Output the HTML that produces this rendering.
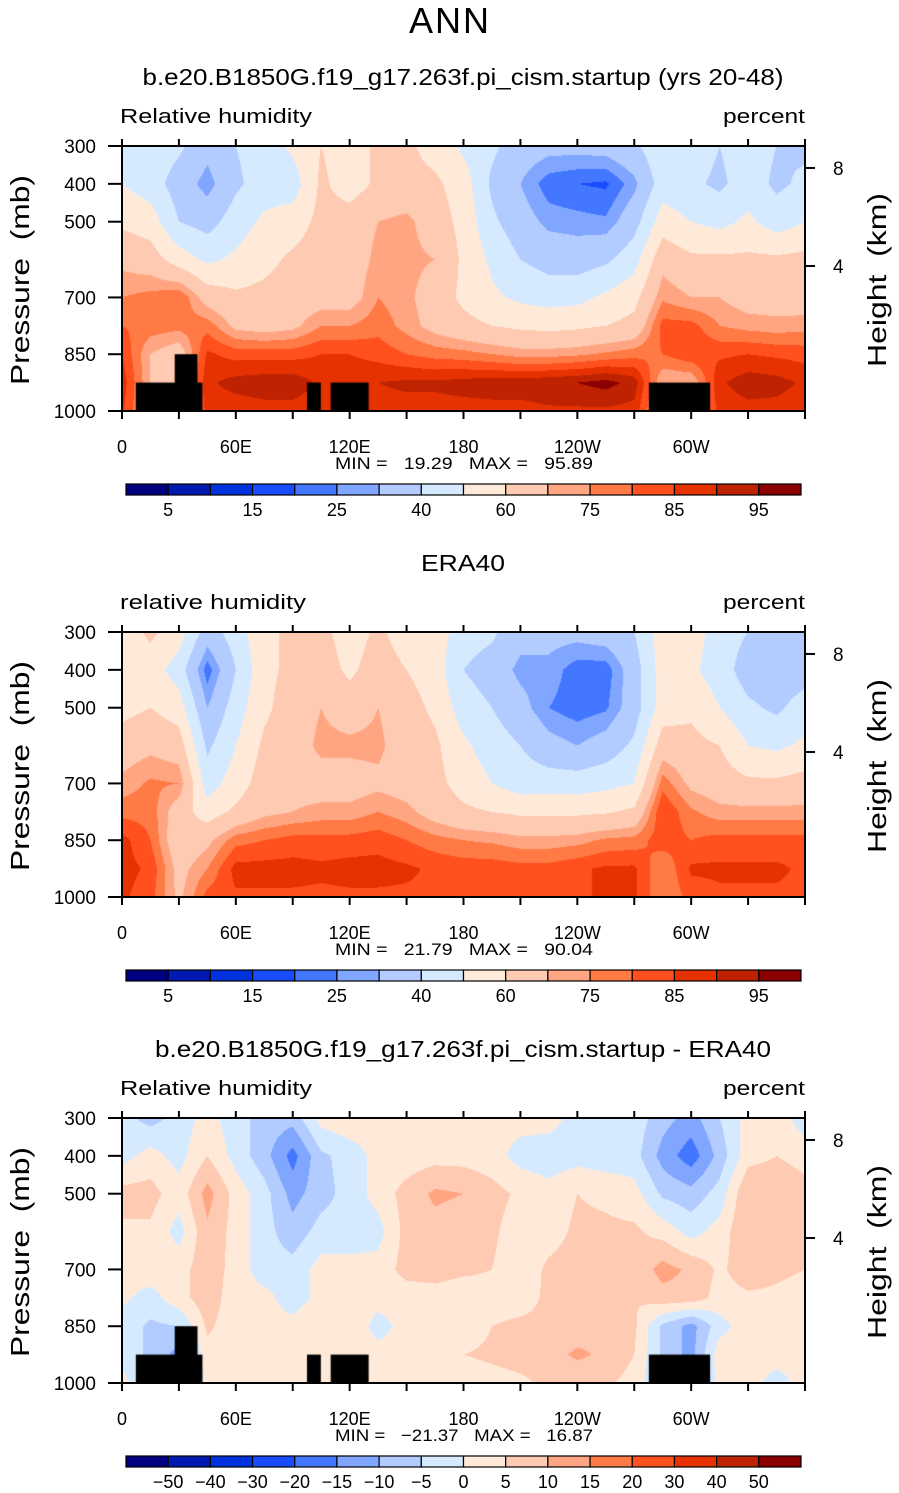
<!DOCTYPE html>
<html><head><meta charset="utf-8">
<style>
html,body{margin:0;padding:0;background:#fff;}
#root{position:relative;width:899px;height:1493px;overflow:hidden;font-family:"Liberation Sans",sans-serif;}
canvas{position:absolute;}
svg{position:absolute;left:0;top:0;}
text{white-space:pre;}
</style></head>
<body>
<div id="root">
<canvas id="c1" width="683" height="265" style="left:122px;top:146px"></canvas>
<canvas id="c2" width="683" height="265" style="left:122px;top:632px"></canvas>
<canvas id="c3" width="683" height="265" style="left:122px;top:1118px"></canvas>
<svg id="ov" width="899" height="1493"></svg>
</div>
<script>
// ---- data ----
const lons = [0,15,30,45,60,75,90,105,120,135,150,165,180,195,210,225,240,255,270,285,300,315,330,345,360];
const pressures = [300,400,500,600,700,775,850,925,1000];
const modelRH = [
[45,50,58,68,75,80,85,88,86],[47,45,55,65,77,78,70,70,70],[42,35,40,55,80,77,65,65,65],
[33,27,36,48,66,78,86,89,87],[40,38,45,52,62,68,83,92,87],[45,45,52,57,63,66,83,93,88],
[52,45,55,62,65,68,83,93,88],[60,62,63,65,66,75,85,89,87],[55,55,65,65,66,75,85,89,87],
[62,62,70,72,75,78,83,90,88],[62,63,72,72,72,73,80,91,88],[56,62,65,70,65,67,78,91,88],
[48,55,57,58,58,63,77,92,88],[42,38,42,48,52,60,75,93,88],[35,30,34,40,48,58,73,93,88],
[33,22,28,36,46,57,73,94,89],[33,20,27,35,47,58,74,95,89],[34,19,26,38,52,60,76,97,89],
[38,28,36,46,57,63,78,93,88],[48,45,55,67,74,82,80,70,70],[45,42,50,62,70,82,84,70,70],
[40,38,47,62,70,75,84,89,87],[45,45,52,62,66,73,85,93,88],[40,38,45,62,66,72,84,92,88],
[38,42,50,63,65,73,83,89,87]];
const eraRH = [
[55,53,57,65,72,78,87,87,86],[62,55,60,68,76,78,80,84,82],[55,45,55,65,75,65,63,67,68],
[35,22,30,38,45,55,68,75,82],[45,40,45,50,55,62,78,87,84],[58,57,58,62,65,68,80,87,84],
[62,63,65,65,67,70,82,87,84],[63,65,70,72,66,72,82,86,84],[55,58,65,72,66,72,82,87,84],
[62,65,70,72,68,75,83,87,84],[55,60,64,64,66,72,80,86,84],[55,55,58,62,63,66,77,84,84],
[45,40,45,52,56,62,75,83,83],[42,35,40,45,50,60,74,83,83],[33,28,33,40,45,58,72,82,83],
[33,28,25,33,45,58,72,82,83],[33,22,22,30,45,58,73,84,84],[35,22,24,34,47,59,76,86,86],
[40,35,35,42,50,62,77,86,86],[55,55,55,65,78,85,83,75,75],[55,52,58,63,68,76,80,86,82],
[45,45,50,60,65,72,82,86,84],[40,35,42,50,62,72,82,86,84],[35,33,38,48,62,72,82,86,84],
[40,35,45,52,64,72,82,84,84]];
const diffRH = [
[-3,-2,7,4,2,1,-2,-2,2],[-7,2,7,4,3,-2,-6,-6,-6],[-3,-2,2,-2,3,3,-5,-12,-12],
[2,5,12,9,8,8,6,3,2],[-3,-2,3,3,3,2,2,2,2],[-7,-8,-3,-3,-3,2,2,2,2],
[-8,-17,-12,-8,-3,-3,2,2,2],[2,-6,-7,-3,2,2,5,2,2],[4,-3,-3,-3,2,2,4,2,2],
[2,2,2,-2,2,2,-2,2,2],[2,2,7,7,7,2,2,2,2],[2,3,11,8,7,3,2,2,2],
[2,3,10,7,6,2,2,5,2],[2,2,7,6,5,3,5,6,3],[2,-2,4,2,2,3,6,7,4],
[2,-3,2,3,6,6,6,8,6],[-2,-2,5,6,7,6,7,11,6],[-2,-3,4,6,7,7,9,9,6],
[-2,-3,2,6,6,5,6,5,3],[-8,-12,-6,3,12,8,-6,-6,-6],[-12,-18,-8,-2,9,8,-12,-12,-12],
[-5,-8,-3,2,4,3,-2,3,2],[2,3,10,10,8,4,3,2,2],[3,5,9,9,6,4,2,2,-2],
[-3,3,7,6,5,3,2,2,2]];
const rhLevels = [5,10,15,20,25,30,40,50,60,70,75,80,85,90,95];
const rhLabels = ["5","15","25","40","60","75","85","95"];
const diffLevels = [-50,-40,-30,-20,-15,-10,-5,0,5,10,15,20,30,40,50];
const diffLabels = ["−50","−40","−30","−20","−15","−10","−5","0","5","10","15","20","30","40","50"];
const topoStart = [7.3, 27.8, 97.5, 110, 277.7];
const topoEnd   = [42.4, 39.8, 104.8, 130, 310];
const topoTop   = [925, 850, 925, 925, 925];
const xTickLabels = ["0","60E","120E","180","120W","60W"];
const xTickLons = [0,60,120,180,240,300];
const pTicks = [300,400,500,700,850,1000];
const hTicks = ["8","4"];
const hTickP = [358,617];
const stats = [["19.29","95.89"],["21.79","90.04"],["−21.37","16.87"]];
const palette = ["#000080","#0019B0","#0033DD","#1A4CFF","#4477FF","#80A6FF","#B3CCFF","#D6EAFF","#FFEADA","#FFCAB2","#FFA582","#FF7A45","#FF501E","#E63200","#BF2200","#8B0000"];

// ---- axis functions ----
const PW=683, PH=265;
function xOf(lon){return lon/360*PW;}
function yOf(p){return (p-300)/700*PH;}
function binOf(v,levels){let i=0;while(i<levels.length&&v>=levels[i])i++;return i;}
function hex(c){return [parseInt(c.substr(1,2),16),parseInt(c.substr(3,2),16),parseInt(c.substr(5,2),16)];}
const palRGB = palette.map(hex);

function sample(grid,lon,p){
  let i=Math.min(Math.floor(lon/15),lons.length-2); let fx=(lon-lons[i])/15;
  let j=0; while(j<pressures.length-2 && p>pressures[j+1]) j++;
  let fy=(p-pressures[j])/(pressures[j+1]-pressures[j]);
  fx=Math.max(0,Math.min(1,fx)); fy=Math.max(0,Math.min(1,fy));
  const a=grid[i][j],b=grid[i+1][j],c=grid[i][j+1],d=grid[i+1][j+1];
  return a*(1-fx)*(1-fy)+b*fx*(1-fy)+c*(1-fx)*fy+d*fx*fy;
}
function drawField(id,grid,levels,topo){
  const cv=document.getElementById(id),ctx=cv.getContext('2d');
  const img=ctx.createImageData(PW,PH);
  for(let y=0;y<PH;y++){const p=300+(y+0.5)/PH*700;
    for(let x=0;x<PW;x++){const lon=(x+0.5)/PW*360;
      const col=palRGB[binOf(sample(grid,lon,p),levels)];
      const k=(y*PW+x)*4;img.data[k]=col[0];img.data[k+1]=col[1];img.data[k+2]=col[2];img.data[k+3]=255;}}
  ctx.putImageData(img,0,0);
  if(topo){ctx.fillStyle='#000';
    for(let t=0;t<topoStart.length;t++){const x0=xOf(topoStart[t]),x1=xOf(topoEnd[t]),y0=yOf(topoTop[t]);
      ctx.fillRect(x0,y0,x1-x0,PH-y0);}}
}
drawField('c1',modelRH,rhLevels,true);
drawField('c2',eraRH,rhLevels,false);
drawField('c3',diffRH,diffLevels,true);

// ---- overlay ----
const NS='http://www.w3.org/2000/svg', ov=document.getElementById('ov');
function el(tag,attrs,parent,text){const e=document.createElementNS(NS,tag);for(const k in attrs)e.setAttribute(k,attrs[k]);if(text!==undefined)e.textContent=text;(parent||ov).appendChild(e);return e;}
function txt(x,y,s,size,anchor,name,extra){const e=el('text',Object.assign({x:x,y:y,'font-size':size,'text-anchor':anchor||'middle','font-family':'Liberation Sans, sans-serif',fill:'#000'},extra||{}),ov,s);
  
  return e;}
const fit={lengthAdjust:'spacingAndGlyphs'};
function fitted(len,extra){return Object.assign({textLength:len},fit,extra||{});}

txt(450,33,"ANN",36,'middle','figure-title',{'letter-spacing':'2'});
const titles=["b.e20.B1850G.f19_g17.263f.pi_cism.startup (yrs 20-48)","ERA40","b.e20.B1850G.f19_g17.263f.pi_cism.startup - ERA40"];
const titleLen=[641,84,616];
const leftLbl=["Relative humidity","relative humidity","Relative humidity"];
const leftLen=[192,186,192];
const offs=[0,486,972];
for(let k=0;k<3;k++){
  const o=offs[k], top=146+o, L=122;
  const g=el('g',{});
  
  
  txt(463,85+o,titles[k],23,'middle','panel-title',fitted(titleLen[k]));
  txt(120,123+o,leftLbl[k],20,'start','variable-label',fitted(leftLen[k]));
  txt(805,123+o,"percent",20,'end','units-label',fitted(82));
  const fr=el('rect',{x:L,y:top,width:PW,height:PH,fill:'none',stroke:'#000','stroke-width':2},g);
  
  
  for(let lon=0;lon<=360;lon+=30){const x=L+xOf(lon);
    el('line',{x1:x,y1:top,x2:x,y2:top-7,stroke:'#000','stroke-width':2},g);
    el('line',{x1:x,y1:top+PH,x2:x,y2:top+PH+8,stroke:'#000','stroke-width':2},g);}
  for(let i=0;i<xTickLabels.length;i++) txt(L+xOf(xTickLons[i]),top+PH+42,xTickLabels[i],18,'middle','x-tick-label');
  for(let i=0;i<pTicks.length;i++){const y=top+yOf(pTicks[i]);
    el('line',{x1:L,y1:y,x2:L-14,y2:y,stroke:'#000','stroke-width':2},g);
    txt(96,y+7,String(pTicks[i]),19,'end','y-tick-label');}
  for(let i=0;i<hTicks.length;i++){const y=top+yOf(hTickP[i]);
    el('line',{x1:L+PW,y1:y,x2:L+PW+10,y2:y,stroke:'#000','stroke-width':2},g);
    txt(833,y+7,hTicks[i],19,'start','right-tick-label');}
  txt(0,0,"Pressure  (mb)",26,'middle','y-axis-title',fitted(210,{transform:`translate(29,${top+134}) rotate(-90)`}));
  txt(0,0,"Height  (km)",26,'middle','right-axis-title',fitted(174,{transform:`translate(886,${top+134}) rotate(-90)`}));
  txt(464,top+323,`MIN =   ${stats[k][0]}   MAX =   ${stats[k][1]}`,17,'middle','min-max-stats',fitted(258));
  const cb=el('g',{});
  
  
  const cx0=126,cw=675/16,cy=top+338;
  for(let i=0;i<16;i++){const r=el('rect',{x:cx0+i*cw,y:cy,width:cw,height:11,fill:palette[i],stroke:'#000','stroke-width':1.2},cb);
    
    }
  if(k<2){for(let i=0;i<rhLabels.length;i++) txt(cx0+(2*i+1)*cw,cy+32,rhLabels[i],18,'middle','colorbar-label');}
  else{for(let i=0;i<diffLabels.length;i++) txt(cx0+(i+1)*cw,cy+32,diffLabels[i],18,'middle','colorbar-label');}
}
</script>
</body></html>
